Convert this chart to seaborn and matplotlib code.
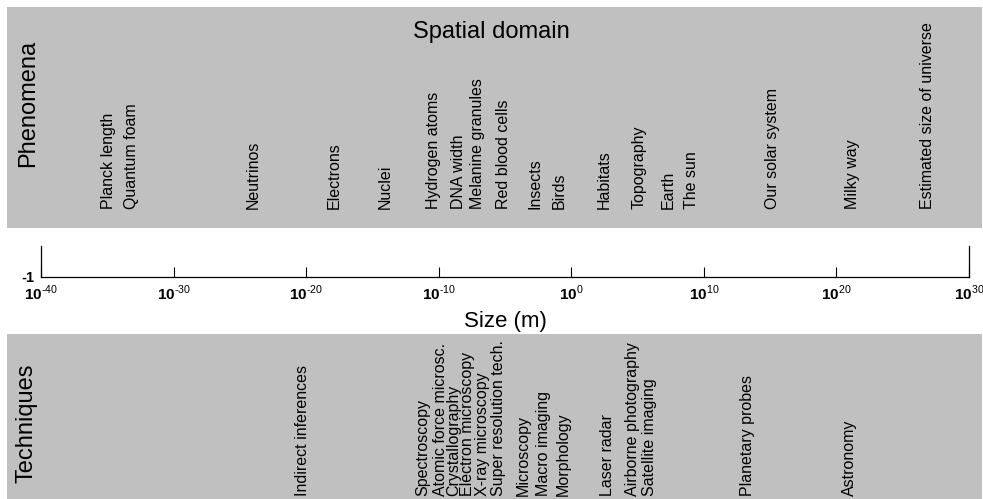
import numpy as np
import matplotlib
matplotlib.use("Agg")
import matplotlib.pyplot as plt
import matplotlib.transforms as mtransforms
from matplotlib.patches import Rectangle
import seaborn as sns

# Phenomena placed along the size scale (log10 of size in metres)
phenomena = ["Planck length", "Quantum foam", "Neutrinos", "Electrons", "Nuclei",
             "Hydrogen atoms", "DNA width", "Melanine granules", "Red blood cells",
             "Insects", "Birds", "Habitats", "Topography", "Earth", "The sun",
             "Our solar system", "Milky way", "Estimated size of universe"]
phenomena_log = [-34.9, -33.2, -24.0, -17.9, -14.0, -10.4, -8.5, -7.1, -5.1,
                 -2.7, -0.9, 2.5, 5.1, 7.3, 9.1, 15.2, 21.2, 26.9]

# Measurement techniques placed along the same scale
techniques = ["Indirect inferences", "Spectroscopy", "Atomic force microsc.",
              "Crystallography", "Electron microscopy", "X-ray microscopy",
              "Super resolution tech.", "Microscopy", "Macro imaging", "Morphology",
              "Laser radar", "Airborne photography", "Satellite imaging",
              "Planetary probes", "Astronomy"]
techniques_log = [-20.3, -11.2, -9.9, -8.9, -7.8, -6.7, -5.5, -3.6, -2.1, -0.6,
                  2.7, 4.6, 5.9, 13.3, 21.0]

tick_exponents = [-40, -30, -20, -10, 0, 10, 20, 30]
y_tick_values = [-1]
y_tick_labels = ["-1"]

sns.set_theme(style="ticks")
plt.rcParams["font.family"] = ["Liberation Sans", "DejaVu Sans"]
plt.rcParams["mathtext.fontset"] = "custom"
plt.rcParams["mathtext.rm"] = "Liberation Sans"
plt.rcParams["mathtext.bf"] = "Liberation Sans:bold"

W, H = 983, 499
fig = plt.figure(figsize=(W / 100, H / 100), dpi=100, facecolor="white")

band_color = "#c0c0c0"
# Top band (phenomena) and bottom band (techniques), kept beneath the axes
fig.patches.append(Rectangle((7 / W, 1 - 228 / H), 975 / W, 221 / H,
                             transform=fig.transFigure, facecolor=band_color,
                             edgecolor="none", zorder=-5))
fig.patches.append(Rectangle((7 / W, 0), 975 / W, 1 - 334 / H,
                             transform=fig.transFigure, facecolor=band_color,
                             edgecolor="none", zorder=-5))

# Size axis
ax = fig.add_axes([41 / W, 1 - 277 / H, 928 / W, 31 / H])
ax.set_facecolor("none")
ax.set_xscale("log")
ax.set_xlim(10.0 ** tick_exponents[0], 10.0 ** tick_exponents[-1])
ax.set_ylim(-1, 0)
ax.set_xticks([10.0 ** e for e in tick_exponents])
ax.set_xticklabels([r"$\mathbf{10}^{\text{%d}}$" % e for e in tick_exponents])
ax.xaxis.set_minor_locator(matplotlib.ticker.NullLocator())
ax.set_yticks(y_tick_values)
ax.set_yticklabels(y_tick_labels, fontweight="bold")
ax.tick_params(axis="x", direction="in", length=7, width=0.8, color="black",
               labelsize=11, pad=5, labelcolor="black")
ax.tick_params(axis="y", direction="in", length=0, labelsize=10.5, pad=5,
               labelcolor="black")
sns.despine(ax=ax, top=True, right=False, left=False, bottom=False)
for side in ["left", "right", "bottom"]:
    ax.spines[side].set_color("black")
    ax.spines[side].set_linewidth(0.9)
ax.set_xlabel("Size (m)", fontsize=16, color="black")
ax.xaxis.label.set_va("center")
ax.xaxis.set_label_coords(0.5, -1.45)

# Labels positioned in data units along x, figure units along y
trans = mtransforms.blended_transform_factory(ax.transData, fig.transFigure)
for name, v in zip(phenomena, phenomena_log):
    ax.text(10.0 ** v, 1 - 209 / H, name, transform=trans, rotation=90,
            ha="center", va="bottom", fontsize=11.5, color="black", clip_on=False)
for name, v in zip(techniques, techniques_log):
    ax.text(10.0 ** v, 0.006, name, transform=trans, rotation=90,
            ha="center", va="bottom", fontsize=11.5, color="black", clip_on=False)

fig.text(491 / W, 1 - 32 / H, "Spatial domain", ha="center", va="center",
         fontsize=17, color="black")
fig.text(28 / W, 1 - 103 / H, "Phenomena", ha="center", va="center",
         rotation=90, fontsize=17, color="black")
fig.text(27 / W, 1 - 423 / H, "Techniques", ha="center", va="center",
         rotation=90, fontsize=17, color="black")

fig.savefig("out.png", dpi=100, facecolor="white")
